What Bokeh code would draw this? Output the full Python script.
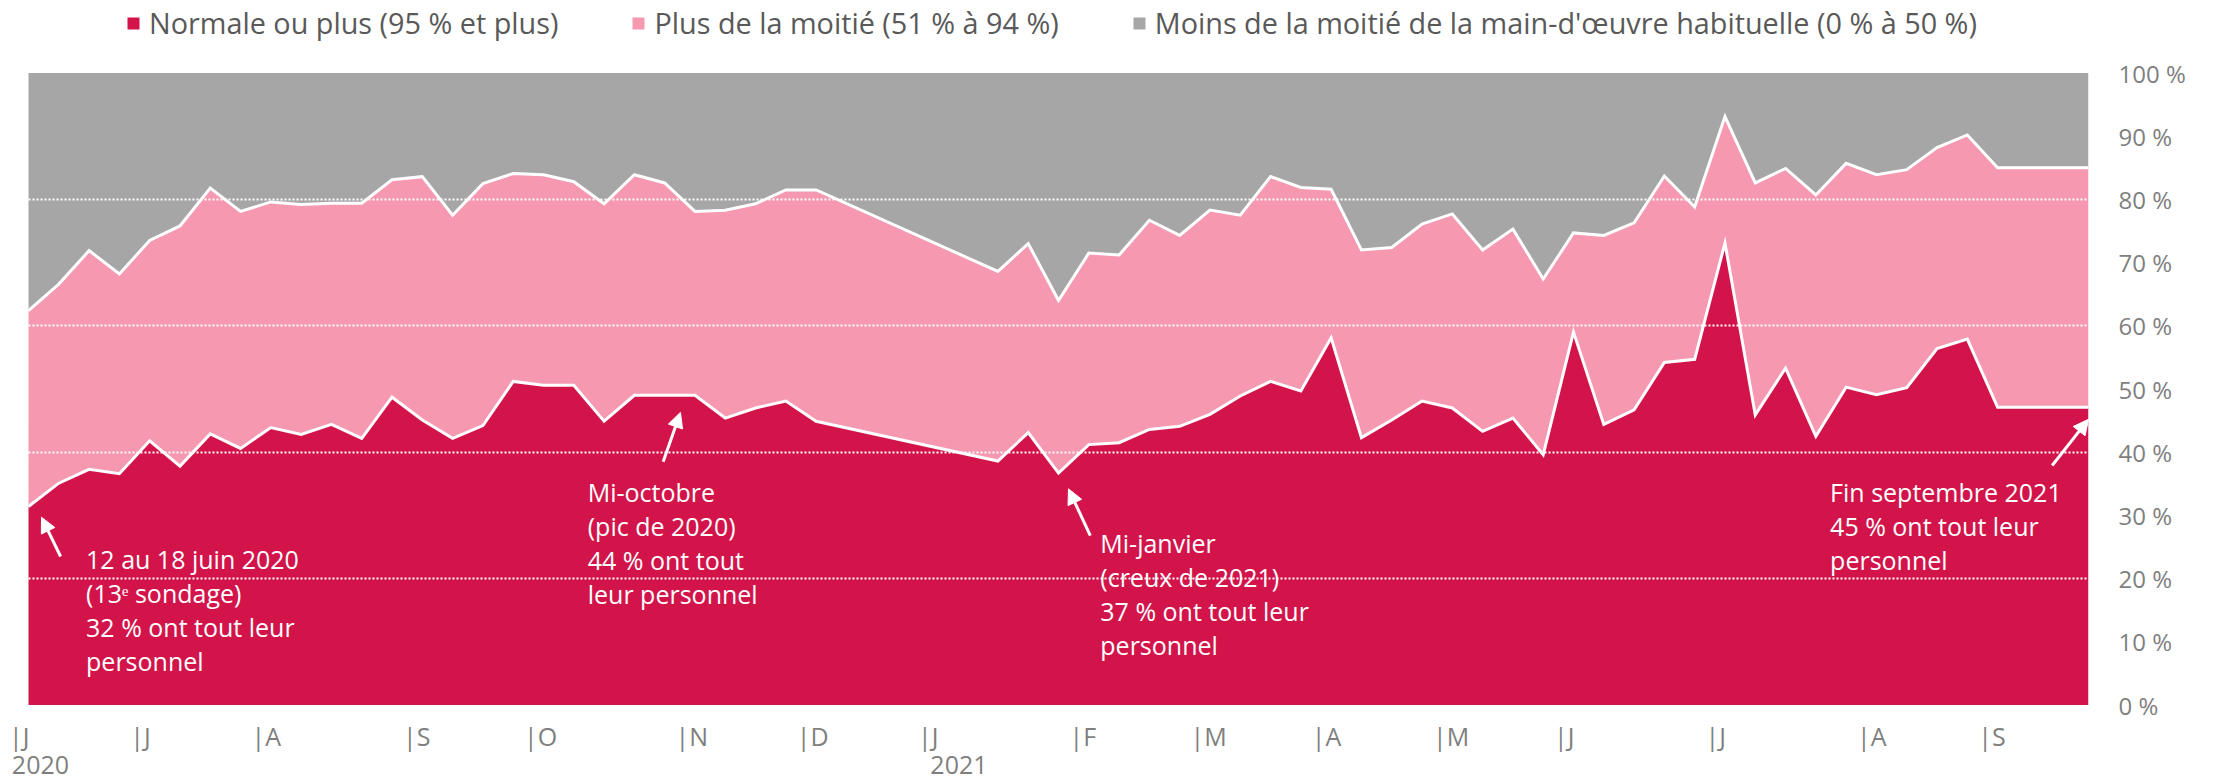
import pandas as pd
from bokeh.plotting import figure
from bokeh.models import (ColumnDataSource, Range1d, FixedTicker, PrintfTickFormatter,
                          Legend, LegendItem, Arrow, NormalHead)
from bokeh.core.properties import value
from bokeh.embed import file_html
from bokeh.resources import INLINE

# ---- data (weekly survey position, 0 = 12-18 June 2020) ----
semaine = list(range(0, 27)) + list(range(32, 69))

normale = [31.4, 35.1, 37.3, 36.6, 41.8, 37.8, 42.9, 40.6, 43.9, 42.8, 44.4, 42.2, 48.7, 45.1,
           42.2, 44.2, 51.2, 50.6, 50.6, 44.9, 49.0, 49.0, 49.0, 45.4, 47.0, 48.1, 44.9,
           38.6, 43.1, 36.7, 41.2, 41.5, 43.6, 44.1, 46.0, 48.9, 51.2, 49.7, 58.1, 42.3,
           45.1, 48.1, 47.0, 43.3, 45.4, 39.6, 59.0, 44.4, 46.7, 54.2, 54.7, 73.1, 45.9,
           53.3, 42.5, 50.3, 49.1, 50.2, 56.4, 57.9, 47.1, 47.1, 47.1, 47.1]

moitie = [31.0, 31.5, 34.6, 31.6, 31.7, 38.0, 38.9, 37.5, 35.7, 36.4, 35.0, 37.2, 34.4, 38.5,
          35.3, 38.3, 32.9, 33.3, 32.2, 34.4, 34.9, 33.6, 29.1, 32.9, 32.3, 33.4, 36.6,
          30.0, 29.9, 27.3, 30.3, 29.7, 33.1, 30.2, 32.3, 28.6, 32.4, 32.2, 23.5, 29.7,
          27.3, 28.0, 30.7, 28.7, 29.9, 27.8, 15.7, 29.9, 29.6, 29.5, 24.1, 20.0, 36.7,
          31.6, 38.2, 35.4, 34.8, 34.5, 31.8, 32.3, 37.9, 37.9, 37.9, 37.9]

moins = [37.6, 33.4, 28.1, 31.8, 26.5, 24.2, 18.2, 21.9, 20.4, 20.8, 20.6, 20.6, 16.9, 16.4,
         22.5, 17.5, 15.9, 16.1, 17.2, 20.7, 16.1, 17.4, 21.9, 21.7, 20.7, 18.5, 18.5,
         31.4, 27.0, 36.0, 28.5, 28.8, 23.3, 25.7, 21.7, 22.5, 16.4, 18.1, 18.4, 28.0,
         27.6, 23.9, 22.3, 28.0, 24.7, 32.6, 25.3, 25.7, 23.7, 16.3, 21.2, 6.9, 17.4,
         15.1, 19.3, 14.3, 16.1, 15.3, 11.8, 9.8, 15.0, 15.0, 15.0, 15.0]

series = ["Normale ou plus (95 % et plus)",
          "Plus de la moitié (51 % à 94 %)",
          "Moins de la moitié de la main-d'œuvre habituelle (0 % à 50 %)"]

# month labels sit at the first survey week of each month
mois_sem = [0, 4, 8, 13, 17, 22, 26, 30, 35, 39, 43, 47, 51, 56, 61, 65]
mois_lab = ["|J", "|J", "|A", "|S", "|O", "|N", "|D", "|J", "|F", "|M",
            "|A", "|M", "|J", "|J", "|A", "|S"]
annees_pos = [-0.55, 29.77]
annees_lab = ["2020", "2021"]
pct_ticks = list(range(0, 101, 10))

notes = ["12 au 18 juin 2020\n(13ᵉ sondage)\n32 % ont tout leur\npersonnel",
         "Mi-octobre\n(pic de 2020)\n44 % ont tout\nleur personnel",
         "Mi-janvier\n(creux de 2021)\n37 % ont tout leur\npersonnel",
         "Fin septembre 2021\n45 % ont tout leur\npersonnel"]
notes_x = [1.90, 18.46, 35.38, 59.47]
notes_y = [25.77, 36.47, 28.37, 36.37]
fleches = [(1.06, 23.5, 0.43, 29.7), (20.95, 38.5, 21.52, 46.3),
           (35.05, 26.8, 34.33, 34.2), (66.8, 37.9, 68.0, 45.2)]

# ---- layout & styles ----
couleurs = ["#D2144A", "#F598B0", "#A6A6A6"]
FONT = "Open Sans"
GRIS_TXT = "#7F7F7F"
W, H = 2212, 782
X0_PX, X68_PX = 28, 2088          # pixel of week 0 and week 68
Y100_PX, Y0_PX = 72.5, 704.5      # pixel of 100 % and 0 %
px_per_week = (X68_PX - X0_PX) / 68.0
px_per_pct = (Y0_PX - Y100_PX) / 100.0
x_start = -X0_PX / px_per_week
y_top = 100 + Y100_PX / px_per_pct
y_bot = -(H - Y0_PX) / px_per_pct
y_mois = (Y0_PX - 735) / px_per_pct
y_annee = (Y0_PX - 764) / px_per_pct

df = pd.DataFrame({"semaine": semaine, "normale": normale, "moitie": moitie, "moins": moins})
df["haut1"] = df["normale"]
df["haut2"] = df["normale"] + df["moitie"]
src = ColumnDataSource(df)

p = figure(width=W, height=H, output_backend="svg", toolbar_location=None,
           x_range=Range1d(x_start, 68), y_range=Range1d(y_bot, y_top),
           x_axis_location=None, y_axis_location="right",
           min_border_left=0, min_border_right=W - X68_PX, min_border_top=0, min_border_bottom=0)
p.outline_line_color = None
p.background_fill_color = "white"
p.border_fill_color = "white"

areas = p.varea_stack(["normale", "moitie", "moins"], x="semaine", source=src, color=couleurs)
p.line("semaine", "haut1", source=src, line_color="white", line_width=3, line_join="miter")
p.line("semaine", "haut2", source=src, line_color="white", line_width=3, line_join="miter")

# grid
p.xgrid.visible = False
p.ygrid.ticker = FixedTicker(ticks=[20, 40, 60, 80])
p.ygrid.grid_line_color = "white"
p.ygrid.grid_line_width = 2
p.ygrid.grid_line_dash = "2 2"
p.ygrid.level = "overlay"

# y axis (right)
p.yaxis.ticker = FixedTicker(ticks=pct_ticks)
p.yaxis.formatter = PrintfTickFormatter(format="%d %%")
p.yaxis.axis_line_color = None
p.yaxis.major_tick_line_color = None
p.yaxis.minor_tick_line_color = None
p.yaxis.major_tick_out = 0
p.yaxis.major_tick_in = 0
p.yaxis.major_label_standoff = 30
p.yaxis.major_label_text_font = FONT
p.yaxis.major_label_text_font_size = "24px"
p.yaxis.major_label_text_color = GRIS_TXT

# month / year labels under the plot area
msrc = ColumnDataSource(dict(x=[s - 0.64 for s in mois_sem], y=[y_mois] * len(mois_sem), t=mois_lab))
p.text("x", "y", text="t", source=msrc, text_color=GRIS_TXT, text_font=value(FONT),
       text_font_size="25px", text_align="left", text_baseline="alphabetic")
ysrc = ColumnDataSource(dict(x=annees_pos, y=[y_annee] * 2, t=annees_lab))
p.text("x", "y", text="t", source=ysrc, text_color=GRIS_TXT, text_font=value(FONT),
       text_font_size="25px", text_align="left", text_baseline="alphabetic")

# annotations
nsrc = ColumnDataSource(dict(x=notes_x, y=notes_y, t=notes))
p.text("x", "y", text="t", source=nsrc, text_color="white", text_font=value(FONT),
       text_font_size="25px", text_align="left", text_baseline="top", text_line_height=1.0)
for x0, y0, x1, y1 in fleches:
    p.add_layout(Arrow(x_start=x0, y_start=y0, x_end=x1, y_end=y1, line_color="white",
                       line_width=3, end=NormalHead(size=15, fill_color="white",
                                                    line_color="white", line_width=1)))

# legend (square swatches via hidden marker renderers)
proxies = [p.scatter(x=[semaine[0]], y=[normale[0]], marker="square", size=12,
                     fill_color=c, line_color=None, visible=False)
           for c in couleurs]
legend = Legend(items=[LegendItem(label=s, renderers=[r]) for s, r in zip(series, proxies)],
                orientation="horizontal", location=(118, H - 42), spacing=65, padding=0, margin=0,
                glyph_width=30, glyph_height=38, label_standoff=1,
                label_text_font=FONT, label_text_font_size="28.8px", label_text_color="#595959",
                border_line_color=None, background_fill_alpha=0, inactive_fill_alpha=0)
p.add_layout(legend)

open("out.html", "w").write(file_html(p, INLINE))
